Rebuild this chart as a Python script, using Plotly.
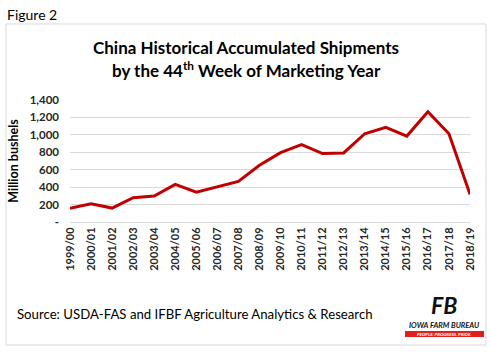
import plotly.graph_objects as go

years = ["1999/00", "2000/01", "2001/02", "2002/03", "2003/04", "2004/05", "2005/06",
         "2006/07", "2007/08", "2008/09", "2009/10", "2010/11", "2011/12", "2012/13",
         "2013/14", "2014/15", "2015/16", "2016/17", "2017/18", "2018/19"]
shipments = [157, 209, 160, 278, 297, 431, 342, 404, 465, 651, 796, 888, 785, 792,
             1013, 1086, 986, 1265, 1013, 317]
ytick_vals = [0, 200, 400, 600, 800, 1000, 1200, 1400]
ytick_text = ["-", "200", "400", "600", "800", "1,000", "1,200", "1,400"]

FONT = "Lato"
fig = go.Figure()
fig.add_trace(go.Scatter(x=years, y=shipments, mode="lines",
                         line=dict(color="#C00000", width=3), hoverinfo="skip"))

fig.update_layout(
    width=491, height=354,
    margin=dict(l=70, r=21, t=100, b=132),
    paper_bgcolor="white", plot_bgcolor="white",
    showlegend=False,
    font=dict(family=FONT, color="#262626"),
    xaxis=dict(type="category", tickangle=-90, showgrid=False, showline=True,
               linecolor="#d9d9d9", linewidth=1, ticks="",
               tickfont=dict(family=FONT, size=11, color="#262626", weight="bold"),
               fixedrange=True),
    yaxis=dict(range=[0, 1400], tickvals=ytick_vals, ticktext=ytick_text,
               showgrid=True, gridcolor="#d9d9d9", gridwidth=1, zeroline=False,
               ticks="", ticklabelstandoff=10,
               tickfont=dict(family=FONT, size=11.5, color="#262626", weight="bold"),
               title=dict(text="Million bushels", standoff=8,
                          font=dict(family=FONT, size=12.5, color="#000000", weight="bold")),
               fixedrange=True),
)

fig.add_shape(type="rect", xref="paper", yref="paper",
              x0=-64/400, x1=(486-70)/400, y0=-(345-222)/122, y1=(222-24)/122,
              line=dict(color="#d9d9d9", width=1), layer="below")

# logo: red bar with white tagline
fig.add_shape(type="rect", xref="paper", yref="paper",
              x0=(405-70)/400, x1=(484-70)/400, y0=-(337-222)/122, y1=-(331-222)/122,
              fillcolor="#E0201B", line=dict(width=0))

ann = [
    dict(text="Figure 2", x=5, y=14, size=14, color="#000000", bold=False, xanchor="left"),
    dict(text="China Historical Accumulated Shipments", x=246, y=47, size=17, color="#000000", bold=True, xanchor="center"),
    dict(text="by the 44<sup>th</sup> Week of Marketing Year", x=246, y=69, size=17, color="#000000", bold=True, xanchor="center"),
    dict(text="Source: USDA-FAS and IFBF Agriculture Analytics &amp; Research", x=15, y=314, size=13.2, color="#000000", bold=False, xanchor="left"),
    dict(text="<i>FB</i>", x=444, y=305, size=23, color="#111111", bold=True, xanchor="center"),
    dict(text="<i>IOWA FARM BUREAU</i>", x=444, y=325, size=7.5, color="#111111", bold=True, xanchor="center"),
    dict(text="<i>PEOPLE. PROGRESS. PRIDE.</i>", x=444, y=334, size=4.5, color="#ffffff", bold=True, xanchor="center"),
]
for a in ann:
    fig.add_annotation(text=a["text"], xref="paper", yref="paper",
                       x=(a["x"] - 70) / 400, y=(222 - a["y"]) / 122,
                       xanchor=a["xanchor"], yanchor="middle", showarrow=False,
                       font=dict(family=FONT, size=a["size"], color=a["color"],
                                 weight="bold" if a["bold"] else "normal"))

fig.write_html("out.html", config={"displayModeBar": False})
